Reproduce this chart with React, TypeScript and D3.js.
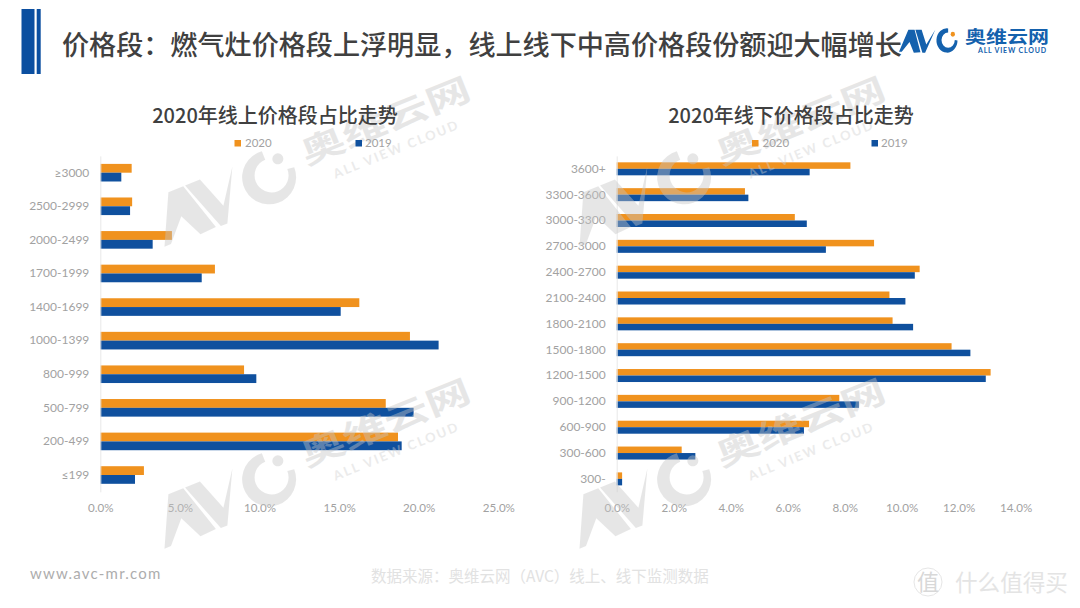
import { useEffect, useRef } from "react";
import * as d3 from "d3";

const SERIES = ["2020", "2019"];
const COLORS = ["#f0921e", "#0f509e"];

const onlineCats = ["≥3000", "2500-2999", "2000-2499", "1700-1999", "1400-1699", "1000-1399", "800-999", "500-799", "200-499", "≤199"];
const online2020 = [1.97, 2.0, 4.5, 7.2, 16.27, 19.45, 9.03, 17.93, 18.7, 2.74];
const online2019 = [1.32, 1.87, 3.29, 6.37, 15.1, 21.25, 9.8, 19.68, 18.93, 2.18];
const onlineTicks = [0, 5, 10, 15, 20, 25];

const offlineCats = ["3600+", "3300-3600", "3000-3300", "2700-3000", "2400-2700", "2100-2400", "1800-2100", "1500-1800", "1200-1500", "900-1200", "600-900", "300-600", "300-"];
const offline2020 = [8.2, 4.5, 6.25, 9.03, 10.63, 9.57, 9.68, 11.75, 13.12, 7.81, 6.75, 2.28, 0.19];
const offline2019 = [6.77, 4.62, 6.67, 7.34, 10.46, 10.13, 10.4, 12.41, 12.95, 8.5, 6.57, 2.76, 0.19];
const offlineTicks = [0, 2, 4, 6, 8, 10, 12, 14];

const LATIN = "Lato, 'Noto Sans', sans-serif";
const CJK = "'Noto Sans CJK SC', sans-serif";

interface BarProps {
  cats: string[];
  a: number[];
  b: number[];
  ticks: number[];
  x0: number;
  x1: number;
  padding: number;
}

// one horizontal grouped bar panel, axes through d3
function BarPanel({ cats, a, b, ticks, x0, x1, padding }: BarProps) {
  const ref = useRef<SVGGElement>(null);

  useEffect(() => {
    if (!ref.current) return;
    const g = d3.select(ref.current);
    g.selectAll("*").remove();

    const top = 155.9;
    const bottom = 491.8;
    const x = d3.scaleLinear().domain([0, ticks[ticks.length - 1]]).range([x0, x1]);
    const y = d3
      .scaleBand<string>()
      .domain(cats)
      .range([top, bottom])
      .paddingInner(padding)
      .paddingOuter(padding / 2);
    const sub = d3.scaleBand<string>().domain(SERIES).range([0, y.bandwidth()]);

    [a, b].forEach((vals, i) => {
      g.append("g")
        .selectAll("rect")
        .data(vals)
        .enter()
        .append("rect")
        .attr("x", x0)
        .attr("y", (_, k) => (y(cats[k]) as number) + (sub(SERIES[i]) as number))
        .attr("width", (d) => x(d) - x0)
        .attr("height", sub.bandwidth())
        .attr("fill", COLORS[i]);
    });

    const yAxis = g
      .append("g")
      .attr("transform", `translate(${x0},0)`)
      .call(d3.axisLeft(y).tickSize(0).tickPadding(11));
    yAxis.select(".domain").attr("stroke", "#e8e8e8");
    yAxis.selectAll("text").attr("fill", "#a2a2a2").attr("font-size", 12).attr("font-family", LATIN);

    const xAxis = g
      .append("g")
      .attr("transform", `translate(0,${bottom})`)
      .call(
        d3
          .axisBottom(x)
          .tickValues(ticks)
          .tickSize(0)
          .tickPadding(11.5)
          .tickFormat((d) => `${(d as number).toFixed(1)}%`)
      );
    xAxis.select(".domain").remove();
    xAxis.selectAll("text").attr("fill", "#a2a2a2").attr("font-size", 11.6).attr("font-family", LATIN);
  }, [cats, a, b, ticks, x0, x1, padding]);

  return <g ref={ref} />;
}

function AvcMark({ fill, dot }: { fill: string; dot: string }) {
  return (
    <g fill={fill}>
      <path d="M0,4 L24,-45 L40,-45 L55,5 L38,6 L27,-18 L7,4 Z" />
      <path d="M42,-45 L58,-45 L70,-12 L93,-45 L67,6 L60,6 Z" />
      <path d="M126,-48 A27,27 0 1 0 150,-21 L143,-22 A17,17 0 1 1 126,-39 Z" />
      <circle cx={138} cy={-35} r={5.5} fill={dot} />
    </g>
  );
}

function Watermark({ x, y }: { x: number; y: number }) {
  return (
    <g transform={`translate(${x},${y}) rotate(-22)`} opacity={0.42}>
      <AvcMark fill="#c6c6c6" dot="#c6c6c6" />
      <text
        transform="translate(162,-18) scale(1,0.72)"
        fontFamily={CJK}
        fontWeight={700}
        fontSize={45}
        fill="#c6c6c6"
      >
        奥维云网
      </text>
      <text x={184} y={5} fontFamily={LATIN} fontWeight={700} fontSize={13} letterSpacing={2} fill="#d0d0d0">
        ALL VIEW CLOUD
      </text>
    </g>
  );
}

function Legend({ x1, x2 }: { x1: number; x2: number }) {
  return (
    <g fontFamily={LATIN} fontSize={11.5} fill="#a2a2a2">
      <rect x={x1} y={140} width={6.5} height={6.5} fill={COLORS[0]} />
      <text x={x1 + 10.5} y={147.3}>{SERIES[0]}</text>
      <rect x={x2} y={140} width={6.5} height={6.5} fill={COLORS[1]} />
      <text x={x2 + 9.5} y={147.3}>{SERIES[1]}</text>
    </g>
  );
}

export default function App() {
  return (
    <svg
      width={1080}
      height={608}
      style={{ position: "fixed", left: 0, top: 0, display: "block", background: "#fff" }}
    >
      <rect x={21.5} y={9} width={13} height={65} fill="#0b4fa0" />
      <rect x={36.7} y={9} width={4} height={65} fill="#0b4fa0" />
      <text x={62} y={55} fontFamily={CJK} fontWeight={500} fontSize={27.1} fill="#404040">
        价格段：燃气灶价格段上浮明显，线上线下中高价格段份额迎大幅增长
      </text>

      {/* top right logo */}
      <g transform="translate(899,50) scale(0.39,0.45)">
        <AvcMark fill="#1461ad" dot="#f0921e" />
      </g>
      <text
        transform="translate(965,42.5) scale(1,0.8)"
        fontFamily={CJK}
        fontWeight={700}
        fontSize={21}
        fill="#1461ad"
      >
        奥维云网
      </text>
      <text x={978} y={52.5} fontFamily={LATIN} fontWeight={700} fontSize={7} letterSpacing={0.8} fill="#1461ad">
        ALL VIEW CLOUD
      </text>

      <BarPanel cats={onlineCats} a={online2020} b={online2019} ticks={onlineTicks} x0={100.3} x1={498.3} padding={0.476} />
      <BarPanel cats={offlineCats} a={offline2020} b={offline2019} ticks={offlineTicks} x0={616.7} x1={1015.7} padding={0.497} />

      <Watermark x={163} y={243} />
      <Watermark x={578} y={243} />
      <Watermark x={163} y={545} />
      <Watermark x={578} y={545} />

      <text x={275} y={122.5} textAnchor="middle" fontFamily={CJK} fontWeight={500} fontSize={20} fill="#404040">
        2020年线上价格段占比走势
      </text>
      <text x={791} y={122.5} textAnchor="middle" fontFamily={CJK} fontWeight={500} fontSize={20} fill="#404040">
        2020年线下价格段占比走势
      </text>
      <Legend x1={234.5} x2={355.5} />
      <Legend x1={752} x2={871.5} />

      <text x={30} y={579} fontFamily={LATIN} fontSize={15} letterSpacing={1.2} fill="#adadad">
        www.avc-mr.com
      </text>
      <text x={371} y={582} fontFamily={CJK} fontSize={15.5} fill="#e2e2e2">
        数据来源：奥维云网（AVC）线上、线下监测数据
      </text>
      <circle cx={928} cy={582} r={14} fill="none" stroke="#e6e6e6" strokeWidth={1} />
      <text x={928} y={590} textAnchor="middle" fontFamily={CJK} fontSize={22} fill="#d8d8d8">
        值
      </text>
      <text x={955} y={591} fontFamily={CJK} fontSize={22.6} fill="#e4e4e4">
        什么值得买
      </text>
    </svg>
  );
}
